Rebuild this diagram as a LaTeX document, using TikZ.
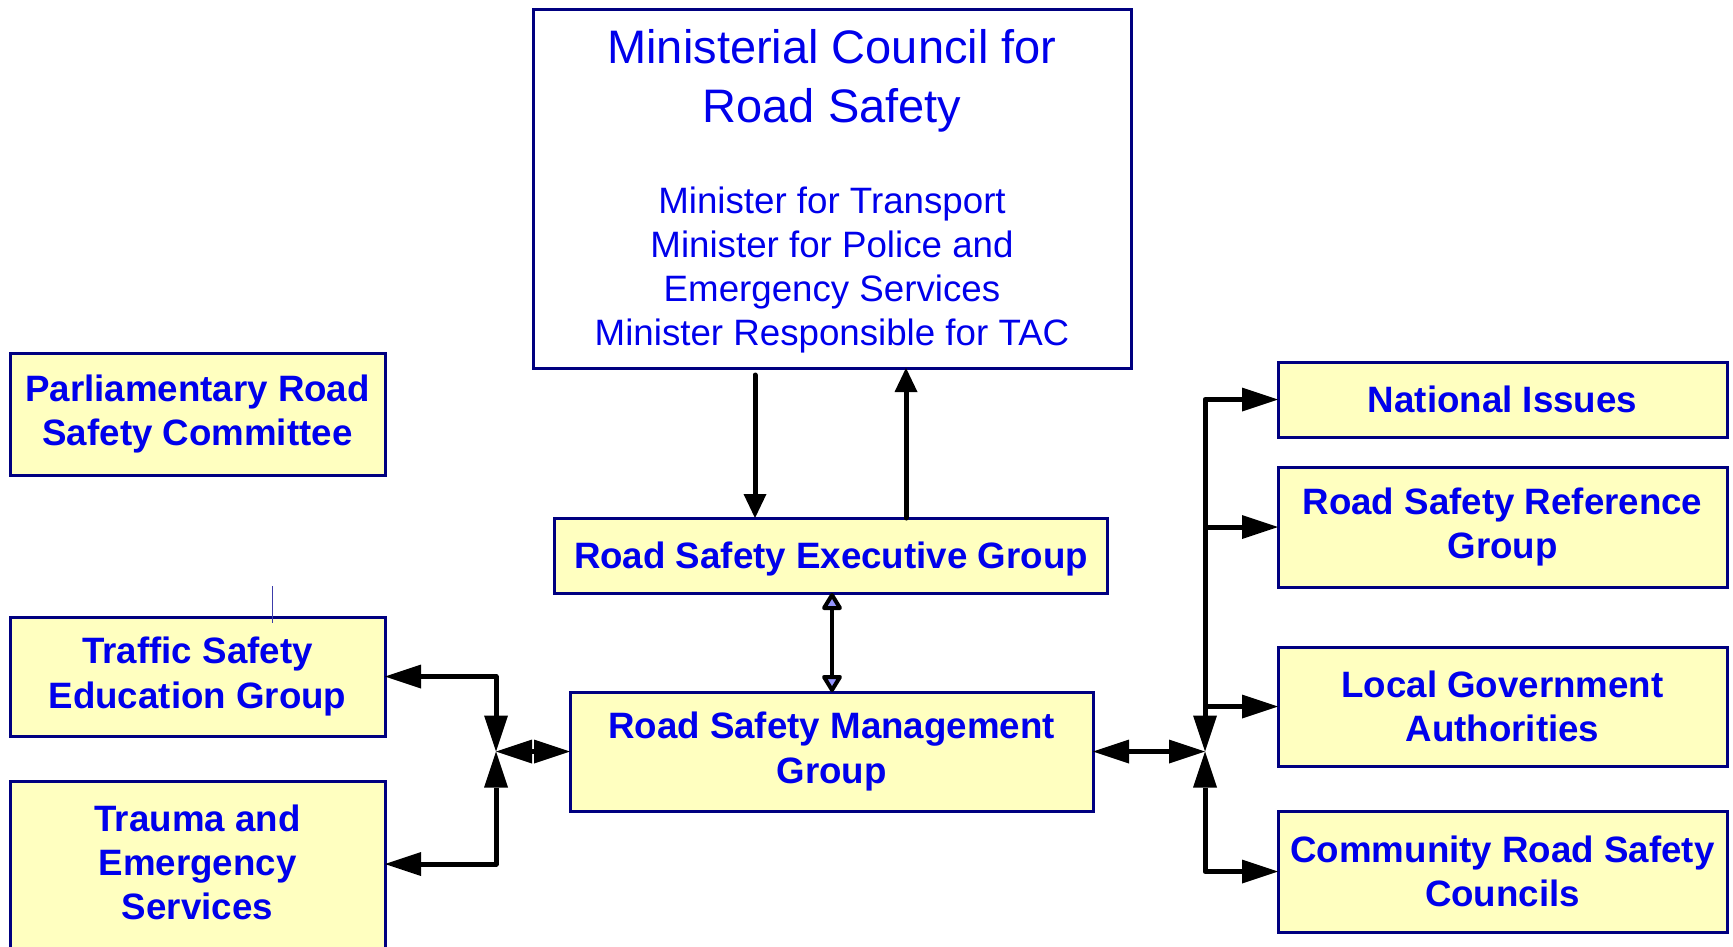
\documentclass[tikz,border=0pt]{standalone}
\usepackage{fontspec}
\setmainfont{Liberation Sans}
\usetikzlibrary{arrows.meta,calc}
\definecolor{txtblue}{RGB}{0,0,235}
\definecolor{navy}{RGB}{0,0,128}
\definecolor{boxyellow}{RGB}{255,255,192}
\definecolor{tipfill}{RGB}{150,150,255}
\definecolor{tickblue}{RGB}{60,60,170}
\begin{document}
\begin{tikzpicture}[x=1pt,y=-1pt,
  basebox/.style={draw=navy,line width=3pt,inner sep=0pt,outer sep=0pt},
  box/.style={basebox,fill=boxyellow,align=center,text=txtblue,
    font=\fontsize{36.7}{44}\selectfont\bfseries},
  boxtext/.style={align=center,text=txtblue,inner sep=0pt,
    font=\fontsize{36.7}{44}\selectfont\bfseries},
  mintext/.style={align=center,text=txtblue,inner sep=0pt},
  conn/.style={line width=5pt,-{Triangle[length=36pt,width=24pt,line width=0pt]}},
  dconn/.style={line width=5pt,{Triangle[length=36pt,width=24pt,line width=0pt]}-{Triangle[length=36pt,width=24pt,line width=0pt]}},
  sconn/.style={line width=5pt,line cap=round,-{Triangle[length=24pt,width=23pt,line width=0pt]}},
  hconn/.style={line width=4.5pt,{Triangle[length=19pt,width=22pt,fill=tipfill,round,line width=4pt]}-{Triangle[length=19pt,width=22pt,fill=tipfill,round,line width=4pt]}}
]
\clip (0,0) rectangle (1733,946);
\fill[white] (0,0) rectangle (1733,946);

% boxes
\node[basebox,fill=white,minimum width=598pt,minimum height=359pt] (min) at (832,188.5) {};
\node[mintext,font=\fontsize{47}{58.6}\selectfont] (mintitle) at (832,81) {Ministerial Council for\\Road Safety};
\node[mintext,font=\fontsize{36.7}{44}\selectfont] (minlist) at (832,270) {Minister for Transport\\Minister for Police and\\Emergency Services\\Minister Responsible for TAC};

\node[box,minimum width=375pt,minimum height=122pt] (parl) at (197.5,414) {Parliamentary Road\\Safety Committee};
\node[box,minimum width=553pt,minimum height=75pt,text depth=0pt] (exec) at (831,555.5) {Road Safety Executive Group};
\node[box,minimum width=523pt,minimum height=119pt] (mgmt) at (831.5,751.5) {Road Safety Management\\Group};
\node[box,minimum width=375pt,minimum height=119pt] (tseg) at (197.5,676.5) {Traffic Safety\\Education Group};
\node[basebox,fill=boxyellow,minimum width=375pt,minimum height=170pt] (trauma) at (197.5,866) {};
\node[boxtext] (traumatext) at (197.5,862) {Trauma and\\Emergency\\Services};
\node[box,minimum width=449pt,minimum height=75pt] (nat) at (1502.5,399.5) {National Issues};
\node[box,minimum width=449pt,minimum height=120pt] (rsrg) at (1502.5,527) {Road Safety Reference\\Group};
\node[box,minimum width=449pt,minimum height=119pt] (lga) at (1502.5,706.5) {Local Government\\Authorities};
\node[box,minimum width=449pt,minimum height=121pt] (crsc) at (1502.5,871.5) {Community Road Safety\\Councils};

% small tick above traffic box
\coordinate (tickA) at (272,586);
\coordinate (tickB) at (272,623);
\draw[tickblue,line width=1pt] (tickA) -- (tickB);

% ministerial <-> executive
\coordinate (dstart) at (755,375);
\coordinate (ustart) at (906,519);
\draw[sconn] (dstart) -- (dstart |- exec.north);
\draw[sconn] (ustart |- exec.north) -- (ustart |- min.south);

% executive <-> management
\coordinate (em) at (832,640);
\draw[hconn] (em |- exec.south) -- (em |- mgmt.north);

% left junction
\coordinate (jl) at (496,751.5);
\draw[dconn] (jl) -- (mgmt.west);
\draw[dconn,line join=round] (jl) |- (tseg.east);
\draw[dconn,line join=round] (jl) |- ([yshift=2pt]trauma.east);

% right junction
\coordinate (jr) at (1205,751.5);
\draw[dconn] (mgmt.east) -- (jr);
\draw[dconn,line join=round] (jr) |- (nat.west);
\draw[dconn,line join=round] (jr) |- (crsc.west);
\draw[conn] (jr |- rsrg.west) -- (rsrg.west);
\draw[conn] (jr |- lga.west) -- (lga.west);
\end{tikzpicture}
\end{document}
